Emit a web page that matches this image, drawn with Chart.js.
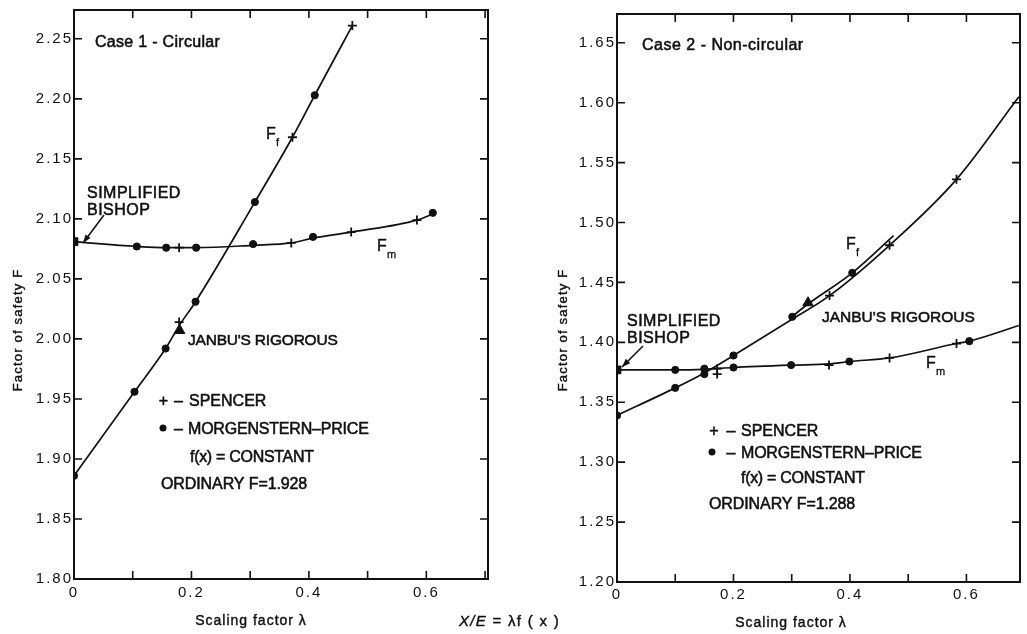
<!DOCTYPE html>
<html><head><meta charset="utf-8">
<script src="https://cdn.jsdelivr.net/npm/chart.js@4.4.1/dist/chart.umd.min.js"></script>
<style>
html,body{margin:0;padding:0;background:#fff;overflow:hidden;width:1027px;height:634px}
#c1{position:absolute;left:0;top:0}
#c2{position:absolute;left:520px;top:0}
#xe{position:absolute;left:459px;top:612px;font:15px 'Liberation Sans',Arial,sans-serif;letter-spacing:1.3px;color:#111;white-space:nowrap;-webkit-text-stroke:0.4px #111}
</style></head>
<body>
<canvas id="c1" width="510" height="634"></canvas>
<canvas id="c2" width="507" height="634"></canvas>
<div id="xe"><i>X/E</i> = λf ( x )</div>
<script>
// ---------- Case 1 – Circular ----------
const c1FfMPx = [0, 0.103, 0.156, 0.207, 0.308, 0.41];
const c1FfMPy = [1.886, 1.956, 1.992, 2.031, 2.114, 2.203];
const c1FfSpx = [0.179, 0.372, 0.474];
const c1FfSpy = [2.014, 2.168, 2.261];
const c1FmMPx = [0.107, 0.157, 0.208, 0.305, 0.407, 0.611];
const c1FmMPy = [2.077, 2.076, 2.076, 2.079, 2.085, 2.105];
const c1FmSpx = [0.179, 0.37, 0.472, 0.584];
const c1FmSpy = [2.076, 2.080, 2.089, 2.099];
const c1Bishop = [0, 2.081];
const c1Janbu = [0.18, 2.007];
const c1FfCurveX = [0, 0.103, 0.156, 0.179, 0.207, 0.308, 0.372, 0.41, 0.474];
const c1FfCurveY = [1.886, 1.956, 1.992, 2.011, 2.031, 2.114, 2.168, 2.203, 2.261];
const c1FmCurveX = [0, 0.107, 0.157, 0.208, 0.305, 0.37, 0.407, 0.472, 0.584, 0.611];
const c1FmCurveY = [2.081, 2.077, 2.076, 2.076, 2.078, 2.080, 2.084, 2.089, 2.099, 2.104];

// ---------- Case 2 – Non-circular ----------
const c2FfMPx = [0, 0.1, 0.15, 0.2, 0.301, 0.404];
const c2FfMPy = [1.339, 1.362, 1.3735, 1.389, 1.4213, 1.458];
const c2FfSpx = [0.172, 0.365, 0.468, 0.583];
const c2FfSpy = [1.3735, 1.439, 1.481, 1.536];
const c2FmMPx = [0.1, 0.15, 0.2, 0.299, 0.399, 0.605];
const c2FmMPy = [1.377, 1.378, 1.379, 1.381, 1.384, 1.401];
const c2FmSpx = [0.172, 0.364, 0.468, 0.583];
const c2FmSpy = [1.378, 1.381, 1.387, 1.399];
const c2Bishop = [0, 1.377];
const c2Janbu = [0.328, 1.433];
const c2FfCurveX = [0, 0.1, 0.15, 0.2, 0.3, 0.365, 0.468, 0.583, 0.69];
const c2FfCurveY = [1.339, 1.362, 1.3745, 1.389, 1.419, 1.439, 1.481, 1.536, 1.605];
const c2FfUpperX = [0.3, 0.328, 0.404, 0.475];
const c2FfUpperY = [1.4213, 1.432, 1.458, 1.489];
const c2FmCurveX = [0, 0.098, 0.15, 0.2, 0.299, 0.364, 0.399, 0.468, 0.583, 0.605, 0.69];
const c2FmCurveY = [1.377, 1.377, 1.3775, 1.379, 1.381, 1.382, 1.384, 1.387, 1.399, 1.401, 1.414];

// tick labels
const xTickLabels = {0: '0', 2: '0.2', 4: '0.4', 6: '0.6'};

const FONT = "'Liberation Sans', Arial, sans-serif";
const INK = '#111111';

function pts(xs, ys) { return xs.map((x, i) => ({x: x, y: ys[i]})); }

function markers(xs, ys, style, r, bw) {
  return {data: pts(xs, ys), showLine: false, pointStyle: style, pointRadius: r,
    pointBackgroundColor: INK, pointBorderColor: INK, pointBorderWidth: bw, pointHoverRadius: r};
}
function curve(xs, ys) {
  return {data: pts(xs, ys), showLine: true, pointRadius: 0, borderColor: INK, borderWidth: 1.7,
    cubicInterpolationMode: 'monotone', fill: false};
}

const framePlugin = {
  id: 'frame',
  beforeDraw(chart) { chart.ctx.letterSpacing = '2px'; },
  afterDraw(chart) {
    const {ctx, chartArea: a, scales: {x, y}} = chart;
    ctx.save();
    ctx.letterSpacing = '0px';
    ctx.strokeStyle = INK;
    ctx.lineWidth = 2;
    ctx.strokeRect(a.left, a.top, a.right - a.left, a.bottom - a.top);
    ctx.lineWidth = 1.6;
    ctx.beginPath();
    const L = 8, eps = 1e-6;
    x.ticks.forEach(t => {
      if (t.value <= x.min + eps || t.value >= x.max - eps) return;
      const p = x.getPixelForValue(t.value);
      ctx.moveTo(p, a.top); ctx.lineTo(p, a.top + L);
      ctx.moveTo(p, a.bottom); ctx.lineTo(p, a.bottom - L);
    });
    y.ticks.forEach(t => {
      if (t.value <= y.min + eps || t.value >= y.max - eps) return;
      const p = y.getPixelForValue(t.value);
      ctx.moveTo(a.left, p); ctx.lineTo(a.left + L, p);
      ctx.moveTo(a.right, p); ctx.lineTo(a.right - L, p);
    });
    ctx.stroke();
    ctx.restore();
  }
};

function annPlugin(items) {
  return {
    id: 'ann',
    afterDraw(chart) {
      const ctx = chart.ctx;
      ctx.save();
      ctx.fillStyle = INK; ctx.strokeStyle = INK;
      ctx.textBaseline = 'alphabetic';
      ctx.lineJoin = 'round';
      const txt = (s, x, y, lw) => { ctx.fillText(s, x, y); ctx.lineWidth = lw; ctx.strokeText(s, x, y); };
      items.forEach(it => {
        ctx.letterSpacing = (it.ls || 0) + 'px';
        ctx.font = (it.s || 16) + 'px ' + FONT;
        const lw = it.lw !== undefined ? it.lw : 0.55;
        if (it.t === 'text') {
          ctx.textAlign = it.align || 'left';
          txt(it.text, it.x, it.y, lw);
        } else if (it.t === 'sub') {
          ctx.textAlign = 'left';
          ctx.font = '16px ' + FONT;
          txt(it.main, it.x, it.y, 0.4);
          ctx.font = '11px ' + FONT;
          txt(it.sub, it.x + 10, it.y + 7, 0.3);
        } else if (it.t === 'vtext') {
          ctx.translate(it.x, it.y);
          ctx.rotate(-Math.PI / 2);
          ctx.textAlign = 'center';
          txt(it.text, 0, 0, lw);
          ctx.setTransform(1, 0, 0, 1, 0, 0);
        } else if (it.t === 'dot') {
          ctx.beginPath(); ctx.arc(it.x, it.y, 3.5, 0, Math.PI * 2); ctx.fill();
        } else if (it.t === 'arrow') {
          const [x1, y1, x2, y2] = it.p;
          ctx.lineWidth = 1.6;
          ctx.beginPath(); ctx.moveTo(x1, y1); ctx.lineTo(x2, y2); ctx.stroke();
          const ang = Math.atan2(y2 - y1, x2 - x1), h = 9;
          ctx.beginPath();
          ctx.moveTo(x2, y2);
          ctx.lineTo(x2 - h * Math.cos(ang - 0.35), y2 - h * Math.sin(ang - 0.35));
          ctx.lineTo(x2 - h * Math.cos(ang + 0.35), y2 - h * Math.sin(ang + 0.35));
          ctx.closePath(); ctx.fill();
        }
      });
      ctx.restore();
    }
  };
}

function makeChart(id, cfg) {
  const ds = [
    markers([cfg.bishop[0]], [cfg.bishop[1]], 'rect', 5.5, 1),
    markers([cfg.janbu[0]], [cfg.janbu[1]], 'triangle', 6, 1),
    markers(cfg.ffSpx, cfg.ffSpy, 'cross', 4.5, 1.8),
    markers(cfg.fmSpx, cfg.fmSpy, 'cross', 4.5, 1.8),
    markers(cfg.ffMPx, cfg.ffMPy, 'circle', 3.6, 1),
    markers(cfg.fmMPx, cfg.fmMPy, 'circle', 3.6, 1)
  ].concat(cfg.curves.map(c => curve(c[0], c[1])));
  return new Chart(document.getElementById(id), {
    type: 'scatter',
    data: {datasets: ds},
    options: {
      responsive: false, animation: false, devicePixelRatio: 1, events: [],
      layout: {padding: cfg.pad},
      plugins: {legend: {display: false}, tooltip: {enabled: false}},
      scales: {
        x: {
          type: 'linear', min: 0, max: cfg.xmax,
          grid: {display: false, drawTicks: false}, border: {display: false},
          ticks: {stepSize: 0.1, includeBounds: false, autoSkip: false, maxRotation: 0,
            padding: cfg.xpad, color: INK, font: {family: FONT, size: 15},
            callback: v => { const k = Math.round(v * 10); return xTickLabels[k] !== undefined ? xTickLabels[k] : ''; }},
          afterFit: s => { s.height = cfg.xh; }
        },
        y: {
          type: 'linear', min: cfg.ymin, max: cfg.ymax,
          grid: {display: false, drawTicks: false}, border: {display: false},
          ticks: {stepSize: 0.05, includeBounds: false, autoSkip: false, padding: cfg.ypad,
            color: INK, font: {family: FONT, size: 15}, callback: v => v.toFixed(2)},
          afterFit: s => { s.width = cfg.yw; }
        }
      }
    },
    plugins: [framePlugin, annPlugin(cfg.items)]
  });
}

makeChart('c1', {
  bishop: c1Bishop, janbu: c1Janbu,
  ffMPx: c1FfMPx, ffMPy: c1FfMPy, ffSpx: c1FfSpx, ffSpy: c1FfSpy,
  fmMPx: c1FmMPx, fmMPy: c1FmMPy, fmSpx: c1FmSpx, fmSpy: c1FmSpy,
  curves: [[c1FfCurveX, c1FfCurveY], [c1FmCurveX, c1FmCurveY]],
  xmax: 0.705, ymin: 1.80, ymax: 2.274,
  pad: {left: 0, top: 10, right: 22, bottom: 0}, xh: 55, yw: 74, xpad: 5, ypad: 1,
  items: [
    {t: 'text', text: 'Case 1 - Circular', x: 95, y: 47, ls: 0.3},
    {t: 'text', text: 'SIMPLIFIED', x: 87, y: 198, ls: 0.5},
    {t: 'text', text: 'BISHOP', x: 87, y: 215, ls: 0.5},
    {t: 'arrow', p: [104, 215, 83, 243]},
    {t: 'sub', main: 'F', sub: 'f', x: 266, y: 139},
    {t: 'sub', main: 'F', sub: 'm', x: 377, y: 251},
    {t: 'text', text: "JANBU'S RIGOROUS", x: 188, y: 345, s: 15.5, ls: -0.2},
    {t: 'text', text: '+', x: 163.5, y: 405.5, align: 'center'},
    {t: 'text', text: '–', x: 178.5, y: 405.5, align: 'center'},
    {t: 'text', text: 'SPENCER', x: 189, y: 405.5, ls: 0},
    {t: 'dot', x: 163, y: 428},
    {t: 'text', text: '–', x: 178.5, y: 433.5, align: 'center'},
    {t: 'text', text: 'MORGENSTERN–PRICE', x: 188, y: 433.5, ls: -0.2},
    {t: 'text', text: 'f(x) = CONSTANT', x: 190, y: 461.5, ls: -0.3},
    {t: 'text', text: 'ORDINARY F=1.928', x: 161, y: 488.5, ls: -0.1},
    {t: 'vtext', text: 'Factor of safety F', x: 21.5, y: 330, s: 13, ls: 1.2, lw: 0.4},
    {t: 'text', text: 'Scaling factor λ', x: 251, y: 625, s: 14, ls: 1, align: 'center', lw: 0.4}
  ]
});

makeChart('c2', {
  bishop: c2Bishop, janbu: c2Janbu,
  ffMPx: c2FfMPx, ffMPy: c2FfMPy, ffSpx: c2FfSpx, ffSpy: c2FfSpy,
  fmMPx: c2FmMPx, fmMPy: c2FmMPy, fmSpx: c2FmSpx, fmSpy: c2FmSpy,
  curves: [[c2FfCurveX, c2FfCurveY], [c2FfUpperX, c2FfUpperY], [c2FmCurveX, c2FmCurveY]],
  xmax: 0.692, ymin: 1.20, ymax: 1.674,
  pad: {left: 0, top: 14, right: 1, bottom: 0}, xh: 52, yw: 97, xpad: 4, ypad: 1,
  items: [
    {t: 'text', text: 'Case 2 - Non-circular', x: 122, y: 50, ls: 0.5},
    {t: 'text', text: 'SIMPLIFIED', x: 107, y: 326, ls: 0.5},
    {t: 'text', text: 'BISHOP', x: 107, y: 343, ls: 0.5},
    {t: 'arrow', p: [123, 346, 102, 367]},
    {t: 'sub', main: 'F', sub: 'f', x: 326, y: 249},
    {t: 'sub', main: 'F', sub: 'm', x: 406, y: 368},
    {t: 'text', text: "JANBU'S RIGOROUS", x: 302, y: 322, s: 15.5, ls: 0},
    {t: 'text', text: '+', x: 194, y: 435.5, align: 'center'},
    {t: 'text', text: '–', x: 211, y: 435.5, align: 'center'},
    {t: 'text', text: 'SPENCER', x: 221, y: 435.5, ls: 0},
    {t: 'dot', x: 192, y: 452},
    {t: 'text', text: '–', x: 211, y: 457.5, align: 'center'},
    {t: 'text', text: 'MORGENSTERN–PRICE', x: 221, y: 457.5, ls: -0.2},
    {t: 'text', text: 'f(x) = CONSTANT', x: 221, y: 482.5, ls: -0.3},
    {t: 'text', text: 'ORDINARY F=1.288', x: 189, y: 508.5, ls: -0.1},
    {t: 'vtext', text: 'Factor of safety F', x: 46.5, y: 330, s: 13, ls: 1.2, lw: 0.4},
    {t: 'text', text: 'Scaling factor λ', x: 271, y: 627, s: 14, ls: 1, align: 'center', lw: 0.4}
  ]
});
</script>
</body></html>
